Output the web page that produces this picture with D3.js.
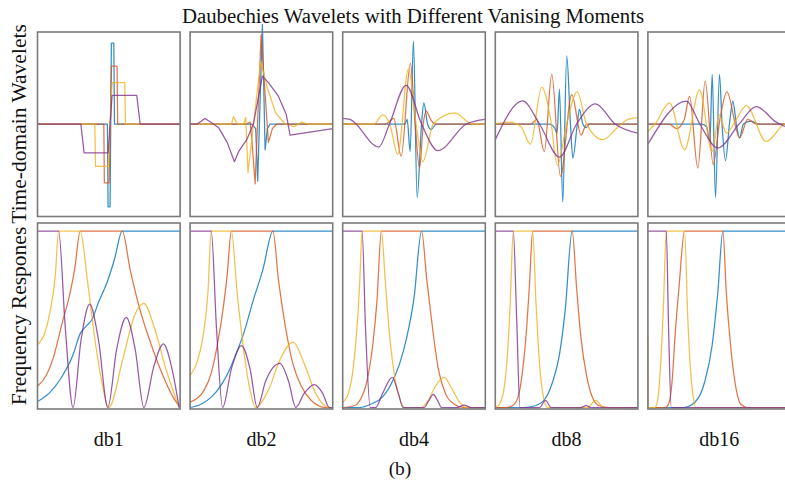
<!DOCTYPE html>
<html><head><meta charset="utf-8">
<script src="https://cdn.jsdelivr.net/npm/d3@7/dist/d3.min.js"></script>
<style>body{margin:0;background:#fff}svg{display:block}</style>
</head><body><svg id="c" width="785" height="485"></svg>
<script>
// ---------- data ----------
const title = "Daubechies Wavelets with Different Vanising Moments";
const rowLabels = ["Time-domain Wavelets", "Frequency Respones"];
const categories = ["db1", "db2", "db4", "db8", "db16"];
const caption = "(b)";
const seriesNames = ["scale1", "scale2", "scale3", "scale4"];
const seriesColors = ["#0072BD", "#D95319", "#EDB120", "#7E2F8E"];

// time-domain wavelets: [position % of window, amplitude]; order blue, orange, yellow, purple
const timeDb1 = [
  [[0,0],[49.0,0],[49.5,-0.9],[50.9,-0.9],[51.8,0.88],[53.5,0.88],[54.0,0],[100,0]],
  [[0,0],[46.5,0],[46.9,-0.64],[50.2,-0.64],[51.9,0.63],[55.8,0.63],[56.2,0],[100,0]],
  [[0,0],[40.2,0],[40.7,-0.46],[49.6,-0.46],[52.3,0.45],[61.2,0.45],[61.7,0],[100,0]],
  [[0,0],[30.4,0],[32.7,-0.315],[49.5,-0.315],[52.3,0.31],[69.6,0.31],[72.0,0],[100,0]]
];
const timeDb2 = [
  [[0,0],[43.2,0],[46.0,-0.05],[47.4,-0.62],[50.7,1.08],[52.6,-0.28],[54.2,-0.05],[56.1,0],[100,0]],
  [[0,0],[39.7,0],[42.1,0.02],[43.2,-0.15],[45.6,-0.65],[49.8,0.97],[54.9,-0.2],[57.7,-0.05],[60.7,0],[100,0]],
  [[0,0],[29.0,0],[30.4,0.08],[33.2,0],[37.4,0],[39.0,0.07],[40.6,-0.53],[49.5,0.68],[54.0,0.4],[60.0,0.12],[66.6,0],[73,-0.03],[78,0.02],[83,0],[100,0]],
  [[0,0],[5,0],[10.5,0.06],[16.4,0],[20,-0.04],[26,-0.2],[31.1,-0.41],[34,-0.3],[39.7,-0.17],[44.4,0],[50.7,0.52],[55,0.45],[62,0.3],[67.5,0.1],[70.1,-0.12],[100,-0.05]]
];
const timeDb4 = [
  [[0,0],[43.6,0],[45.2,0.05],[47.3,-0.3],[49.6,0.9],[52.2,-0.8],[55.3,0],[56.9,0.23],[59.5,0],[62,-0.06],[65.6,0],[100,0]],
  [[0,0],[30,0],[35.8,0.06],[41.0,-0.35],[47.5,0.66],[50.8,0],[53.9,-0.48],[56.5,0],[58.5,0.14],[62,0.04],[65.6,0],[100,0]],
  [[0,0],[22,0],[28,0.1],[33,0],[38.6,-0.33],[46.1,0.6],[51.5,0],[56.2,-0.41],[63.5,0],[78.5,0.12],[91,0],[100,0]],
  [[0,0.06],[5,0.05],[25.3,-0.25],[32.8,0],[44.5,0.42],[55.3,0],[66.7,-0.29],[86.7,0],[100,0.05]]
];
const timeDb8 = [
  [[0,0],[38,0],[41.5,-0.04],[43.3,-0.1],[45,0.38],[47.3,-0.85],[50.1,0.74],[52.7,0],[54.4,-0.37],[57.5,0],[59,0.16],[61.4,0],[63.7,-0.04],[66,0],[100,0]],
  [[0,0],[25,0],[29,0.05],[34.4,-0.3],[39.6,0.54],[45.7,-0.57],[53.6,0.32],[60.2,-0.12],[64,0],[100,0]],
  [[0,0],[10,0.02],[18,-0.03],[24.6,-0.22],[32.6,0.4],[38.8,0.05],[43.5,-0.45],[50,0],[57.4,0.35],[64,0],[75.4,-0.17],[85,-0.05],[93,0.05],[100,0.07]],
  [[0,-0.17],[19.2,0.25],[31,0],[45,-0.36],[57,0],[70.3,0.22],[84,0],[100,-0.1]]
];
const timeDb16 = [
  [[0,0],[38,0],[41.1,-0.03],[43.5,-0.19],[45.1,0.54],[47.4,-0.8],[50.2,0.54],[52,0],[54.4,-0.4],[57.2,0],[59.6,0.25],[62,0],[64.3,-0.15],[67,0],[72,0.03],[78,0],[100,0]],
  [[0,0],[15,0],[20,-0.05],[25.5,0.05],[29.2,0.3],[35,-0.48],[40.2,0.47],[45.8,-0.44],[50.5,0.05],[55.4,0.35],[64.3,-0.15],[70,0.05],[76,0],[100,0]],
  [[0,-0.08],[5,0],[15.2,0.23],[25.7,-0.28],[36.2,0.37],[45,-0.3],[50,0.1],[55,-0.1],[62,0.05],[69,0.2],[82.9,-0.19],[95.8,0],[100,0.02]],
  [[0,-0.22],[27,0.25],[36.4,0],[49,-0.26],[64,0],[75.9,0.19],[90,0.02],[100,-0.05]]
];

// frequency responses: [frequency % of band, normalised magnitude]
const freqDb1 = [
  [[0,0.034],[8,0.08],[16,0.16],[25,0.3],[30,0.42],[34,0.46],[38.3,0.5],[43,0.6],[48.8,0.71],[54,0.84],[59.4,1],[100,1]],
  [[0,0.12],[6,0.18],[11,0.28],[15.5,0.42],[17,0.47],[22,0.62],[26,0.78],[30,1],[59.4,1],[65,0.78],[72,0.55],[80,0.35],[88,0.18],[95,0.06],[100,0]],
  [[0,0.355],[5,0.42],[9,0.55],[12.5,0.75],[14.8,1],[30,1],[35,0.72],[40,0.4],[45,0.15],[50,0],[60,0.28],[68,0.52],[74.6,0.59],[82,0.45],[90,0.22],[99.3,0]],
  [[0,1],[14.8,1],[19.5,0.45],[24.9,0],[30.5,0.38],[36.6,0.585],[42.8,0.38],[49.3,0],[55.5,0.33],[62.2,0.51],[68.5,0.33],[74.6,0],[81.5,0.23],[88.3,0.36],[94,0.23],[99.3,0]]
];
const freqDb2 = [
  [[0,0],[8,0.02],[15,0.06],[22,0.13],[28,0.22],[32,0.3],[38,0.43],[44,0.6],[51,0.78],[58.1,1],[100,1]],
  [[0,0.03],[10,0.1],[15,0.2],[19,0.35],[23,0.55],[26,0.75],[28.9,1],[58.1,1],[62,0.72],[67,0.45],[72,0.25],[78,0.12],[85,0.04],[95,0],[100,0]],
  [[0,0.18],[5,0.26],[9,0.4],[12.5,0.65],[14.8,1],[28.9,1],[33,0.65],[38,0.3],[42,0.1],[45.9,0],[55,0.1],[63,0.27],[72.2,0.37],[80,0.25],[88,0.08],[97.6,0],[100,0]],
  [[0,1],[14.8,1],[18.5,0.45],[22.8,0],[29,0.22],[36,0.35],[42,0.22],[47.1,0],[53,0.15],[63,0.25],[69,0.15],[74.1,0],[80,0.08],[87.1,0.13],[93,0.08],[97.6,0],[100,0]]
];
const freqDb4 = [
  [[0,0],[12,0],[20,0.02],[28,0.06],[35,0.15],[40,0.25],[45,0.4],[50,0.62],[55.3,1],[100,1]],
  [[0,0],[8,0.01],[12,0.04],[17,0.15],[21,0.35],[24,0.6],[27.1,1],[55.3,1],[59,0.72],[63,0.45],[67,0.22],[72,0.08],[78,0.02],[85,0],[100,0]],
  [[0,0.03],[4,0.08],[7,0.2],[10,0.45],[12,0.72],[13.6,1],[27.1,1],[30,0.7],[33,0.4],[37,0.15],[40,0.05],[43.5,0],[55,0],[60,0.04],[65,0.12],[71,0.17],[77,0.1],[82,0.03],[87,0],[100,0]],
  [[0,1],[13.6,1],[16,0.45],[19.3,0],[23,0],[28,0.08],[34.8,0.17],[39,0.08],[42.4,0],[57,0],[60.5,0.04],[63.5,0.075],[66.5,0.04],[69.4,0],[80,0],[85.2,0.013],[90,0],[100,0]]
];
const freqDb8 = [
  [[0,0],[20,0],[28,0.01],[35,0.05],[40,0.14],[45,0.3],[49,0.55],[53.9,1],[100,1]],
  [[0,0],[8,0],[12,0.01],[16,0.06],[19,0.2],[22,0.45],[24,0.7],[26.2,1],[53.9,1],[57,0.68],[60,0.4],[64,0.18],[68,0.06],[73,0.01],[80,0],[100,0]],
  [[0,0],[3,0.02],[6,0.1],[8.5,0.3],[10.5,0.6],[12.6,1],[26.2,1],[28.5,0.6],[31,0.25],[34,0.05],[36.8,0],[65,0],[70.3,0.04],[76,0],[100,0]],
  [[0,1],[12.6,1],[15,0.5],[17.3,0],[31,0],[35.1,0.04],[39.3,0],[60,0],[63.7,0.01],[67,0],[100,0]]
];
const freqDb16 = [
  [[0,0],[25,0],[33,0.03],[40,0.15],[45,0.35],[49,0.65],[52.6,1],[100,1]],
  [[0,0],[12,0],[14.5,0.02],[17,0.15],[19,0.4],[22,0.7],[25.7,1],[52.6,1],[55,0.65],[58,0.35],[62,0.1],[65,0.02],[70,0],[100,0]],
  [[0,0.41],[0.5,0],[5,0],[7,0.05],[9,0.25],[11,0.6],[12.9,1],[25.7,1],[28,0.5],[30,0.2],[32,0.05],[33.5,0],[100,0]],
  [[0,1],[12.9,1],[14.5,0.45],[16.4,0],[100,0]]
];

const timeData = [timeDb1, timeDb2, timeDb4, timeDb8, timeDb16];
const freqData = [freqDb1, freqDb2, freqDb4, freqDb8, freqDb16];

// ---------- drawing ----------
const svg = d3.select("#c");
svg.append("rect").attr("width", 785).attr("height", 485).attr("fill", "#fff");

const xBand = d3.scaleBand().domain(categories).range([37.5, 790.5]).paddingInner(0.0655).paddingOuter(0);
const rows = [
  {y0: 32, y1: 216.5, data: timeData, y: d3.scaleLinear().domain([-1, 1]).range([216, 32])},
  {y0: 223, y1: 409, data: freqData, y: d3.scaleLinear().domain([0, 1]).range([407.5, 231])}
];
const font = "'Liberation Serif','Times New Roman',serif";

rows.forEach((row, ri) => {
  categories.forEach((cat, ci) => {
    const x0 = xBand(cat), bw = xBand.bandwidth();
    const x = d3.scaleLinear().domain([0, 100]).range([x0, x0 + bw]);
    const curve = (ri === 0 && ci < 2) ? d3.curveLinear : d3.curveMonotoneX;
    const line = d3.line().x(d => x(d[0])).y(d => row.y(d[1])).curve(curve);
    const g = svg.append("g");
    row.data[ci].forEach((s, si) => {
      g.append("path").attr("d", line(s)).attr("fill", "none")
        .attr("stroke", seriesColors[si]).attr("stroke-width", 1.25)
        .attr("stroke-opacity", 0.8).attr("stroke-linejoin", "round");
    });
    svg.append("rect").attr("x", x0).attr("y", row.y0).attr("width", bw).attr("height", row.y1 - row.y0)
      .attr("fill", "none").attr("stroke", "#7a7a7a").attr("stroke-width", 1.6);
  });
});

svg.append("text").attr("x", 413).attr("y", 23).attr("text-anchor", "middle")
  .attr("font-family", font).attr("font-size", 20.8).attr("fill", "#111").text(title);

[[124, rowLabels[0]], [316, rowLabels[1]]].forEach(([cy, t]) => {
  svg.append("text").attr("transform", `translate(26,${cy}) rotate(-90)`).attr("text-anchor", "middle")
    .attr("font-family", font).attr("font-size", 21.5).attr("fill", "#111").text(t);
});

categories.forEach(cat => {
  svg.append("text").attr("x", xBand(cat) + xBand.bandwidth() / 2).attr("y", 446).attr("text-anchor", "middle")
    .attr("font-family", font).attr("font-size", 20).attr("fill", "#111").text(cat);
});
svg.append("text").attr("x", 400).attr("y", 475).attr("text-anchor", "middle")
  .attr("font-family", font).attr("font-size", 19.5).attr("fill", "#111").text(caption);
</script></body></html>
